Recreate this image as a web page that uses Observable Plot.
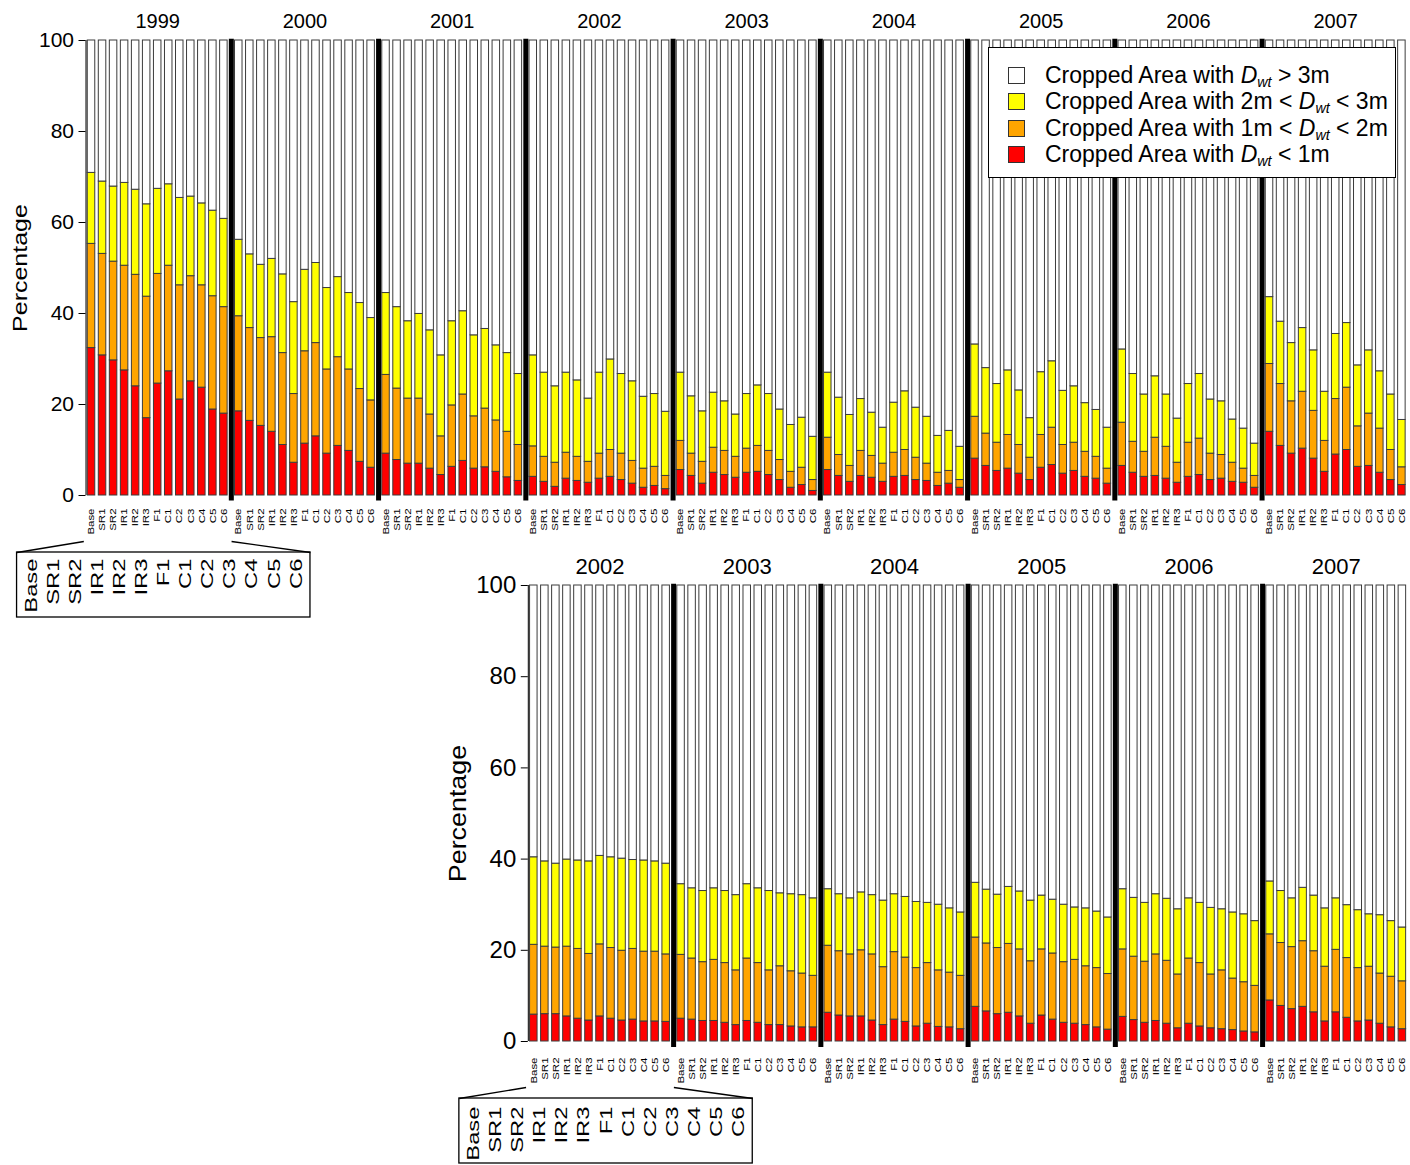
<!DOCTYPE html>
<html>
<head>
<meta charset="utf-8">
<script src="https://cdn.jsdelivr.net/npm/d3@7"></script>
<script src="https://cdn.jsdelivr.net/npm/@observablehq/plot@0.6"></script>
<style>
  body { margin: 0; background: #fff; font-family: "Liberation Sans", Arial, sans-serif; }
  #fig { position: relative; width: 1410px; height: 1165px; overflow: hidden; }
  #upper { position: absolute; left: 0; top: 0; }
  #lower { position: absolute; left: 430px; top: 545px; }
  .legend {
    position: absolute; left: 988px; top: 47px; width: 408px; height: 131px;
    box-sizing: border-box; border: 1px solid #000; background: #fff;
    padding-top: 14px; font-size: 23px; line-height: 1; color: #000;
  }
  .legend .row { height: 26.5px; display: flex; align-items: center; white-space: nowrap; }
  .legend .sw { width: 15px; height: 15px; border: 1px solid #333; margin-left: 19px; margin-right: 20px; flex: none; }
  .legend sub { font-size: 0.62em; vertical-align: -0.3em; font-style: italic; line-height: 0; }
</style>
</head>
<body>
<div id="fig">
  <div id="upper"></div>
  <div id="lower"></div>
  <div class="legend">
    <div class="row"><span class="sw" style="background:#FFFFFF"></span><span>Cropped Area with <i>D</i><sub>wt</sub> &gt; 3m</span></div>
    <div class="row"><span class="sw" style="background:#FFFF00"></span><span>Cropped Area with 2m &lt; <i>D</i><sub>wt</sub> &lt; 3m</span></div>
    <div class="row"><span class="sw" style="background:#FFA500"></span><span>Cropped Area with 1m &lt; <i>D</i><sub>wt</sub> &lt; 2m</span></div>
    <div class="row"><span class="sw" style="background:#FF0000"></span><span>Cropped Area with <i>D</i><sub>wt</sub> &lt; 1m</span></div>
  </div>
</div>
<script>
// Management scenarios, one bar each per year
const scenarios = ["Base", "SR1", "SR2", "IR1", "IR2", "IR3", "F1", "C1", "C2", "C3", "C4", "C5", "C6"];

// Upper panel: 1999-2007. Cumulative % of cropped area with water-table depth below 1 m, 2 m and 3 m
const upperYears = [1999, 2000, 2001, 2002, 2003, 2004, 2005, 2006, 2007];
const upperBelow1m = [
  [32.4, 30.8, 29.7, 27.5, 24.0, 17.0, 24.6, 27.3, 21.1, 25.1, 23.7, 18.9, 18.0],
  [18.5, 16.4, 15.3, 14.0, 11.1, 7.2, 11.4, 13.0, 9.2, 10.9, 9.8, 7.4, 6.1],
  [9.2, 7.8, 7.0, 7.0, 5.9, 4.5, 6.3, 7.6, 5.9, 6.2, 5.2, 4.0, 3.2],
  [4.1, 3.0, 1.9, 3.7, 3.2, 2.8, 3.7, 4.1, 3.4, 2.6, 1.7, 2.1, 1.4],
  [5.6, 4.3, 2.6, 5.0, 4.5, 3.9, 5.0, 5.2, 4.5, 3.4, 1.7, 2.3, 1.0],
  [5.6, 4.3, 3.0, 4.3, 3.9, 3.0, 4.1, 4.3, 3.4, 3.2, 2.1, 2.6, 1.7],
  [8.1, 6.5, 5.4, 5.9, 4.8, 3.4, 6.1, 6.7, 4.8, 5.4, 4.1, 3.7, 2.6],
  [6.5, 5.0, 4.1, 4.3, 3.7, 2.8, 4.1, 4.5, 3.4, 3.7, 3.0, 2.8, 1.7],
  [14.0, 10.9, 9.2, 10.3, 8.1, 5.2, 9.0, 10.0, 6.3, 6.5, 5.0, 3.4, 2.3]
];
const upperBelow2m = [
  [55.3, 53.1, 51.4, 50.5, 48.5, 43.7, 48.7, 50.5, 46.2, 48.2, 46.2, 43.8, 41.4],
  [39.4, 36.8, 34.6, 34.8, 31.3, 22.3, 31.7, 33.5, 27.7, 30.4, 27.7, 23.4, 20.9],
  [26.5, 23.5, 21.3, 21.3, 17.8, 13.0, 19.8, 22.2, 17.4, 19.1, 16.5, 14.0, 11.1],
  [10.8, 8.5, 7.2, 9.4, 8.5, 7.4, 9.2, 10.0, 9.2, 7.6, 5.9, 6.3, 4.3],
  [12.0, 9.2, 7.4, 10.5, 9.8, 8.5, 10.3, 10.9, 9.8, 7.8, 5.2, 6.1, 3.4],
  [12.7, 8.9, 6.5, 9.8, 8.7, 7.0, 9.4, 10.0, 8.3, 7.0, 5.0, 5.4, 3.4],
  [17.3, 13.6, 11.6, 13.3, 11.1, 8.3, 13.3, 14.9, 11.1, 11.6, 9.6, 8.5, 5.9],
  [16.0, 11.8, 9.6, 12.7, 10.7, 7.2, 11.6, 12.5, 9.2, 8.9, 7.2, 5.9, 4.3],
  [28.9, 24.5, 20.7, 22.8, 18.6, 12.0, 21.2, 23.7, 15.2, 18.0, 14.7, 10.0, 6.2]
];
const upperBelow3m = [
  [70.9, 69.0, 67.9, 68.7, 67.2, 64.0, 67.4, 68.4, 65.4, 65.7, 64.2, 62.6, 60.8],
  [56.2, 53.0, 50.7, 52.0, 48.6, 42.5, 49.6, 51.1, 45.6, 48.0, 44.5, 42.3, 39.0],
  [44.5, 41.4, 38.3, 39.9, 36.3, 30.8, 38.3, 40.5, 35.2, 36.6, 33.0, 31.3, 26.7],
  [30.8, 27.0, 24.0, 27.0, 25.3, 21.3, 27.0, 29.9, 26.7, 25.1, 21.7, 22.3, 18.4],
  [27.0, 21.8, 18.5, 22.6, 20.7, 17.8, 22.3, 24.2, 22.3, 18.9, 15.5, 17.1, 12.9],
  [27.0, 21.5, 17.7, 21.2, 18.2, 14.9, 20.4, 22.9, 19.3, 17.3, 13.1, 14.2, 10.7],
  [33.2, 28.0, 24.5, 27.5, 23.1, 17.0, 27.1, 29.5, 23.0, 24.0, 20.3, 18.8, 14.9],
  [32.1, 26.7, 22.2, 26.2, 22.2, 16.9, 24.5, 26.7, 21.1, 20.7, 16.7, 14.7, 11.4],
  [43.6, 38.2, 33.5, 36.8, 31.9, 22.8, 35.5, 37.9, 28.6, 31.9, 27.3, 22.2, 16.6]
];

// Lower panel: 2002-2007
const lowerYears = [2002, 2003, 2004, 2005, 2006, 2007];
const lowerBelow1m = [
  [5.9, 6.0, 6.0, 5.5, 5.0, 4.6, 5.5, 5.0, 4.6, 4.8, 4.4, 4.4, 4.3],
  [5.0, 4.8, 4.5, 4.5, 4.1, 3.6, 4.5, 4.1, 3.6, 3.6, 3.3, 3.1, 3.1],
  [6.3, 5.7, 5.5, 5.5, 4.6, 3.6, 4.8, 4.3, 3.3, 3.9, 3.2, 3.1, 2.7],
  [7.6, 6.6, 6.0, 6.3, 5.5, 3.9, 5.7, 4.8, 4.1, 3.9, 3.6, 3.1, 2.6],
  [5.4, 4.7, 4.1, 4.5, 3.9, 2.9, 3.9, 3.3, 2.9, 2.7, 2.5, 2.2, 2.0],
  [9.0, 7.8, 7.1, 7.6, 6.4, 4.4, 6.4, 5.2, 4.4, 4.6, 3.9, 3.1, 2.7]
];
const lowerBelow2m = [
  [21.2, 20.8, 20.6, 20.8, 20.3, 19.2, 21.3, 20.5, 19.9, 20.3, 19.7, 19.7, 19.1],
  [19.0, 18.2, 17.4, 17.9, 17.2, 15.6, 18.2, 17.2, 15.6, 16.5, 15.4, 14.9, 14.4],
  [21.0, 19.8, 19.1, 20.0, 19.1, 16.3, 19.6, 18.4, 16.1, 17.2, 15.6, 15.1, 14.4],
  [22.8, 21.5, 20.5, 21.4, 20.2, 17.6, 20.2, 19.3, 17.4, 17.9, 16.5, 16.1, 14.8],
  [20.2, 18.6, 17.5, 19.1, 17.7, 14.7, 18.2, 17.2, 14.7, 15.6, 13.8, 13.0, 12.2],
  [23.5, 21.6, 20.7, 22.0, 19.8, 16.4, 20.1, 18.3, 16.1, 16.4, 14.9, 14.2, 13.2]
];
const lowerBelow3m = [
  [40.4, 39.5, 39.0, 39.9, 39.7, 39.5, 40.7, 40.4, 40.1, 39.8, 39.7, 39.5, 39.0],
  [34.5, 33.6, 33.0, 33.6, 33.0, 32.1, 34.5, 33.6, 33.0, 32.5, 32.3, 32.1, 31.4],
  [33.4, 32.3, 31.4, 32.7, 32.1, 30.9, 32.3, 31.7, 30.6, 30.4, 30.0, 29.2, 28.3],
  [34.8, 33.3, 32.2, 33.9, 32.9, 30.9, 32.0, 31.1, 30.0, 29.4, 29.2, 28.5, 27.2],
  [33.4, 31.5, 30.4, 32.3, 31.3, 29.0, 31.4, 30.4, 29.3, 29.0, 28.3, 27.9, 26.4],
  [35.1, 33.0, 31.4, 33.7, 32.0, 29.2, 31.4, 29.9, 28.8, 27.9, 27.7, 26.4, 25.0]
];

const classColors = ["#FF0000", "#FFA500", "#FFFF00", "#FFFFFF"];
const yTicks = [0, 20, 40, 60, 80, 100];

// Layout along x, in bar units: one unit per bar, each year group takes GROUP units
const GROUP = 13.35;
const HALF = 0.34;

// Stretch rotated labels along their reading direction
function stretchText(svg, label, k) {
  d3.select(svg)
    .selectAll(`g[aria-description="${label}"] text, text[aria-description="${label}"]`)
    .attr("transform", function () {
      return (this.getAttribute("transform") || "") + ` scale(${k},1)`;
    });
}

function drawPanel(o) {
  const {years, below1m, below2m, below3m} = o;
  const ppu = (o.height - o.marginTop - o.marginBottom) / 100; // px per percentage point
  const segments = [];
  const labels = [];
  years.forEach((yr, i) => {
    scenarios.forEach((s, j) => {
      const pos = i * GROUP + j;
      const levels = [0, below1m[i][j], below2m[i][j], below3m[i][j], 100];
      for (let k = 0; k < 4; ++k) segments.push({pos, y1: levels[k], y2: levels[k + 1], fill: classColors[k]});
      labels.push({pos, name: s});
    });
  });
  const separators = years.slice(1).map((_, k) => (k + 1) * GROUP - (GROUP - 12) / 2);
  const yearLabels = years.map((yr, i) => ({pos: i * GROUP + 6, yr: String(yr)}));

  // enlarged copy of the scenario names under the first year group
  const cc = 6.55;
  const box = {x1: cc - 13.3, x2: cc + 13.3, y1: -122 / ppu, y2: -57 / ppu};
  const leaders = [
    {x1: -0.7, y1: -46 / ppu, x2: box.x1, y2: box.y2},
    {x1: 12.7, y1: -46 / ppu, x2: box.x2, y2: box.y2}
  ];
  const callout = scenarios.map((s, j) => ({pos: cc + 2 * (j - 6), name: s}));

  const svg = Plot.plot({
    width: o.width,
    height: o.height,
    marginLeft: o.marginLeft,
    marginRight: o.marginRight,
    marginTop: o.marginTop,
    marginBottom: o.marginBottom,
    style: {fontFamily: "Liberation Sans, Arial, sans-serif", background: "transparent", overflow: "visible", color: "#000"},
    x: {domain: [-0.5, (years.length - 1) * GROUP + 12.5], axis: null},
    y: {domain: [0, 100]},
    color: {type: "identity"},
    marks: [
      Plot.rect(segments, {
        x1: (d) => d.pos - HALF, x2: (d) => d.pos + HALF, y1: "y1", y2: "y2",
        fill: "fill", stroke: "#3c3c3c", strokeWidth: 1
      }),
      Plot.ruleX(separators, {y1: o.sepBottom, y2: 100.3, stroke: "#000", strokeWidth: 5}),
      Plot.ruleX([-0.5], {y1: 0, y2: 100, stroke: "#000", strokeWidth: 1}),
      Plot.axisY({ticks: yTicks, tickSize: 7, tickPadding: 5, fontSize: o.tickFont, label: null, stroke: "#000"}),
      Plot.text(["Percentage"], {
        frameAnchor: "left", dx: o.titleDx, rotate: -90, textAnchor: "middle",
        fontSize: o.titleFont, fill: "#000", ariaDescription: "y-title"
      }),
      Plot.text(yearLabels, {x: "pos", y: 100, dy: -19, text: "yr", fontSize: o.yearFont, lineAnchor: "middle", fill: "#000"}),
      Plot.text(labels, {
        x: "pos", y: 0, dy: o.labelDy, text: "name", rotate: -90, textAnchor: "end",
        fontSize: 8.5, fill: "#000", ariaDescription: "scenario-labels"
      }),
      Plot.rect([box], {x1: "x1", x2: "x2", y1: "y1", y2: "y2", fill: "none", stroke: "#000", strokeWidth: 1.3}),
      Plot.link(leaders, {x1: "x1", y1: "y1", x2: "x2", y2: "y2", stroke: "#000", strokeWidth: 1.3}),
      Plot.text(callout, {
        x: "pos", y: 0, dy: o.calloutDy, text: "name", rotate: -90, textAnchor: "end",
        fontSize: 17, fill: "#000", ariaDescription: "callout-labels"
      })
    ]
  });
  stretchText(svg, "scenario-labels", 1.35);
  stretchText(svg, "callout-labels", 1.4);
  stretchText(svg, "y-title", o.titleStretch);
  return svg;
}

document.getElementById("upper").appendChild(drawPanel({
  years: upperYears, below1m: upperBelow1m, below2m: upperBelow2m, below3m: upperBelow3m,
  width: 1410, height: 625, marginLeft: 85.5, marginRight: 3.1, marginTop: 40, marginBottom: 130,
  tickFont: 21, yearFont: 20, titleFont: 20, titleStretch: 1.25, titleDx: -65, sepBottom: -1.2,
  labelDy: 13, calloutDy: 63
}));

document.getElementById("lower").appendChild(drawPanel({
  years: lowerYears, below1m: lowerBelow1m, below2m: lowerBelow2m, below3m: lowerBelow3m,
  width: 980, height: 620, marginLeft: 97.8, marginRight: 2.6, marginTop: 40, marginBottom: 124,
  tickFont: 24, yearFont: 22, titleFont: 24, titleStretch: 1.12, titleDx: -70, sepBottom: -1.3,
  labelDy: 16, calloutDy: 65
}));
</script>
</body>
</html>
